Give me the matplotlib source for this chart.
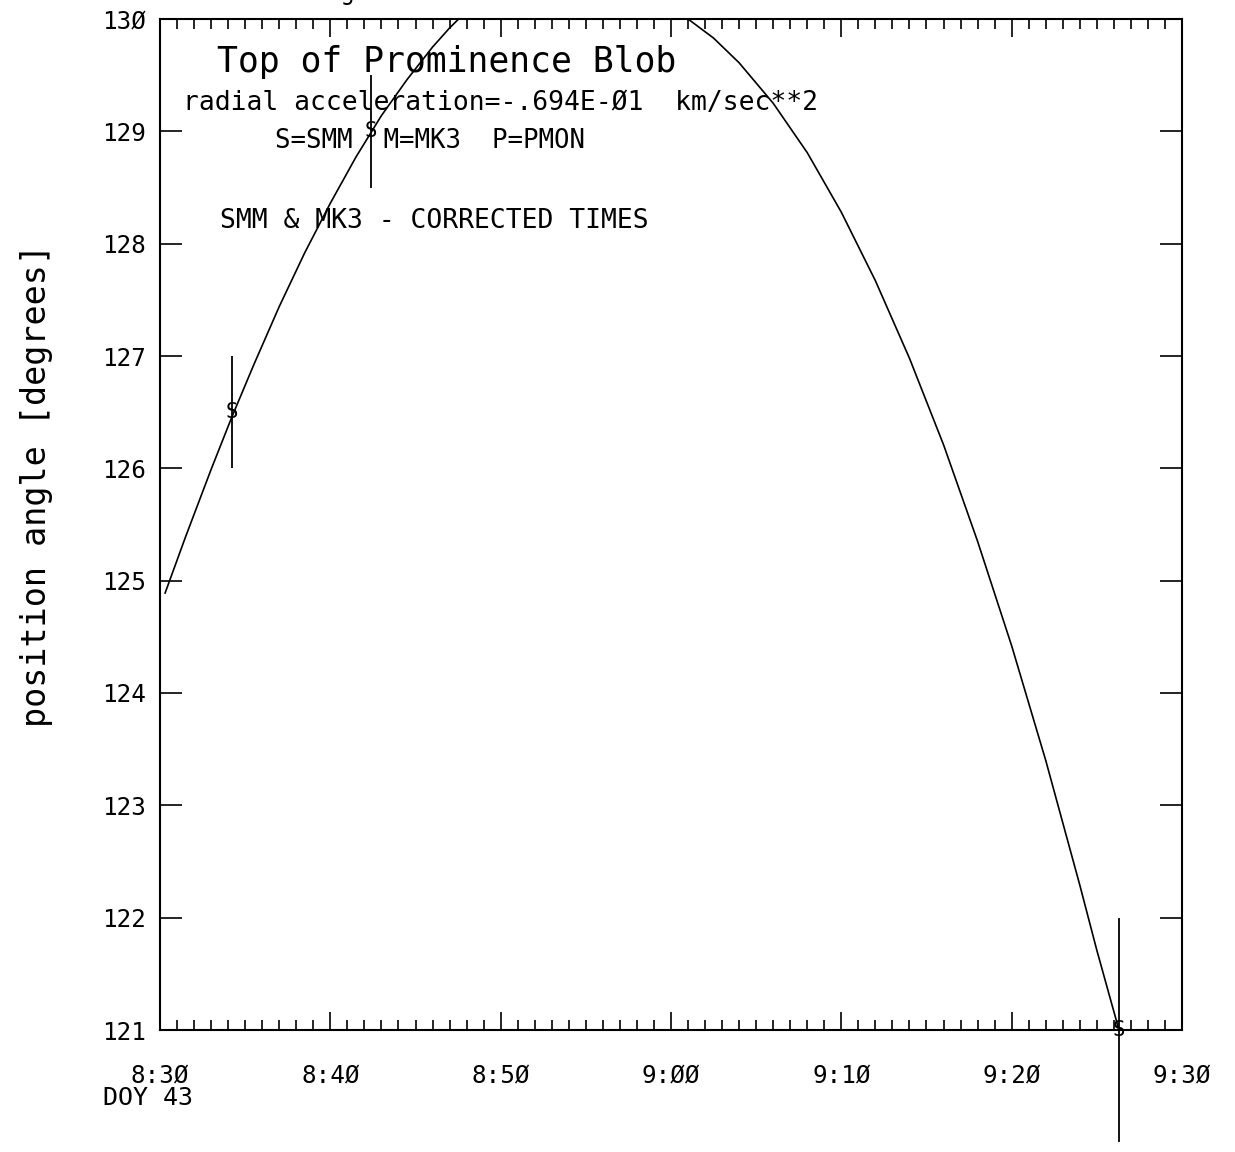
import matplotlib
matplotlib.use("Agg")
import matplotlib.pyplot as plt

plt.rcParams["font.family"] = ["DejaVu Sans Mono", "DejaVu Sans"]

# minutes after 8:30 UT, DOY 43
obs_t = [4.2, 12.4, 56.3]
obs_pa = [126.5, 129.0, 121.0]
obs_err = [0.5, 0.5, 1.0]
obs_sym = ["S", "S", "S"]

# fitted curve (peak is above the frame)
fit_t = [0.3, 1.5, 3.0, 4.2, 5.5, 7.0, 8.5, 10.0, 11.5, 13.0, 14.5, 16.0,
         17.0, 18.0, 21.0, 24.5, 28.0, 31.0, 32.5, 34.0, 36.0, 38.0, 40.0,
         42.0, 44.0, 46.0, 48.0, 50.0, 52.0, 54.0, 55.0, 56.3]
fit_pa = [124.89, 125.39, 125.99, 126.45, 126.92, 127.44, 127.92, 128.36,
          128.77, 129.14, 129.46, 129.75, 129.92, 130.07, 130.35, 130.45,
          130.35, 130.0, 129.83, 129.61, 129.25, 128.81, 128.28, 127.67,
          126.98, 126.21, 125.35, 124.42, 123.40, 122.29, 121.71, 121.0]

xticks = [0, 10, 20, 30, 40, 50, 60]
xlabels = ["8:3Ø", "8:4Ø", "8:5Ø", "9:ØØ", "9:1Ø", "9:2Ø", "9:3Ø"]
yticks = [121, 122, 123, 124, 125, 126, 127, 128, 129, 130]
ylabels = ["121", "122", "123", "124", "125", "126", "127", "128", "129", "13Ø"]

W, H = 1235, 1152
fig = plt.figure(figsize=(W / 100, H / 100), dpi=100)
ax = fig.add_axes([160 / W, 1 - 1030 / H, 1022 / W, 1011 / H])

ax.plot(fit_t, fit_pa, color="black", lw=1.2)
eb = ax.errorbar(obs_t, obs_pa, yerr=obs_err, fmt="none", ecolor="black",
                 elinewidth=1.3, capsize=0)
for c in eb[2]:
    c.set_clip_on(False)
for t, p, s in zip(obs_t, obs_pa, obs_sym):
    ax.text(t, p, s, ha="center", va="center", fontsize=15, clip_on=False)

ax.set_xlim(0, 60)
ax.set_ylim(121, 130)
ax.set_xticks(xticks)
ax.set_xticklabels(xlabels, fontsize=17.5)
ax.set_xticks(range(61), minor=True)
ax.set_yticks(yticks)
ax.set_yticklabels(ylabels, fontsize=17.5)

ax.tick_params(axis="x", which="both", direction="in", top=True, bottom=True,
               width=1.2, pad=24)
ax.tick_params(axis="x", which="major", length=13)
ax.tick_params(axis="x", which="minor", length=7)
ax.tick_params(axis="y", which="major", direction="in", left=True, right=True,
               length=16, width=1.2, pad=10)
for sp in ax.spines.values():
    sp.set_linewidth(1.5)

ax.set_ylabel("position angle [degrees]", fontsize=24)
ax.yaxis.set_label_coords(-0.105, 0.539)

def ftext(x, y, s, **kw):
    fig.text(x / W, 1 - y / H, s, **kw)

ftext(255, 0, "N=2 angular acceleration fit", fontsize=17, va="baseline")
ftext(217, 62, "Top of Prominence Blob", fontsize=25, va="center")
ftext(183, 103, "radial acceleration=-.694E-Ø1  km/sec**2", fontsize=19,
      va="center")
ftext(275, 141, "S=SMM  M=MK3  P=PMON", fontsize=18.5, va="center")
ftext(220, 221, "SMM & MK3 - CORRECTED TIMES", fontsize=19, va="center")
ftext(103, 1098, "DOY 43", fontsize=18, va="center")

plt.savefig("out.png", dpi=100)
